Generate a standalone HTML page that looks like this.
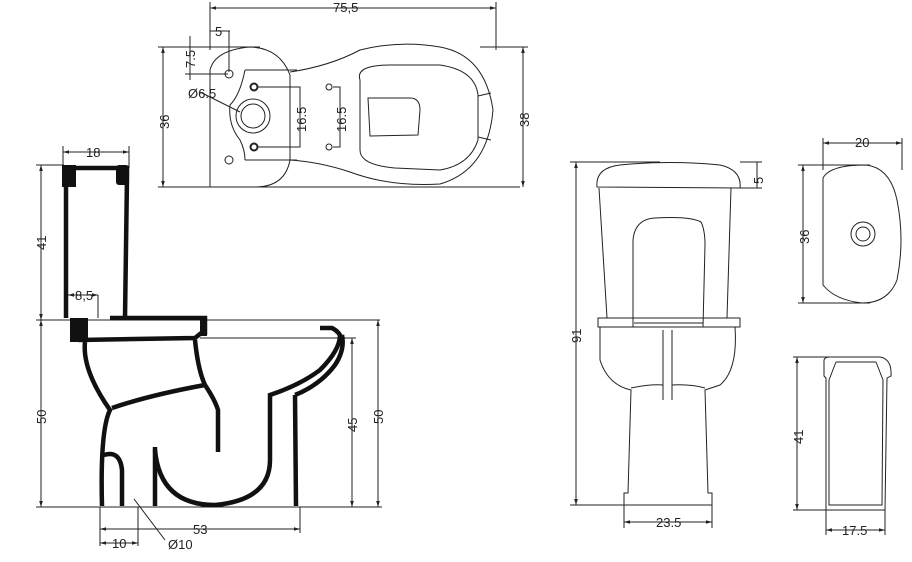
<!DOCTYPE html>
<html><head><style>
html,body{margin:0;padding:0;background:#fff;width:912px;height:562px;overflow:hidden}
svg text{font-family:"Liberation Sans",sans-serif;font-size:13px;fill:#222}
</style></head><body>
<svg width="912" height="562" viewBox="0 0 912 562" xmlns="http://www.w3.org/2000/svg">
<defs><marker id="a" viewBox="0 0 10 10" refX="10" refY="5" markerWidth="6" markerHeight="6" orient="auto-start-reverse"><path d="M0,2 L10,5 L0,8z" fill="#222"/></marker></defs>
<g fill="none" stroke="#222" stroke-width="1">
<line x1="36" y1="320" x2="380" y2="320"/>
<line x1="36" y1="507" x2="382" y2="507"/>
<line x1="36" y1="165" x2="64" y2="165"/>
<line x1="41" y1="165" x2="41" y2="320" marker-start="url(#a)" marker-end="url(#a)"/>
<line x1="41" y1="320" x2="41" y2="507" marker-start="url(#a)" marker-end="url(#a)"/>
<line x1="200" y1="338" x2="356" y2="338"/>
<line x1="352" y1="338" x2="352" y2="507" marker-start="url(#a)" marker-end="url(#a)"/>
<line x1="378" y1="320" x2="378" y2="507" marker-start="url(#a)" marker-end="url(#a)"/>
<line x1="63" y1="146" x2="63" y2="165"/><line x1="129" y1="146" x2="129" y2="168"/>
<line x1="63" y1="152" x2="129" y2="152" marker-start="url(#a)" marker-end="url(#a)"/>
<line x1="100" y1="507" x2="100" y2="546"/><line x1="300" y1="507" x2="300" y2="533"/><line x1="138" y1="507" x2="138" y2="546"/>
<line x1="100" y1="529" x2="300" y2="529" marker-start="url(#a)" marker-end="url(#a)"/>
<line x1="100" y1="543" x2="138" y2="543" marker-start="url(#a)" marker-end="url(#a)"/>
<line x1="134" y1="499" x2="165" y2="540"/>
<line x1="68" y1="295" x2="98" y2="295" marker-start="url(#a)" marker-end="url(#a)"/>
<line x1="98" y1="295" x2="98" y2="318"/>
</g>
<g stroke="#111" stroke-width="4.5" fill="none" stroke-linecap="butt">
<path d="M66,318 L66,168 L127,168 L127,176 L125,318"/>
<path d="M110,318 L205,318 L205,335"/>
<path d="M74,322 L80,340 L195,338 L205,330"/>
<path d="M85,342 Q82,370 110,410 Q100,430 102,506"/>
<path d="M195,340 Q198,370 205,385 Q215,400 218,410 L218,452"/>
<path d="M112,408 Q150,395 205,385"/>
<path d="M104,455 Q120,450 122,470 L122,506"/>
<path d="M155,447 L155,506"/>
<path d="M155,450 Q160,505 215,505 Q270,500 270,460 L270,395 Q300,385 320,370 Q340,350 340,335"/>
<path d="M295,395 L296,506"/>
<path d="M295,395 Q320,385 335,365 Q345,350 342,335"/>
<path d="M320,328 L332,328 Q340,332 342,340"/>
</g>
<g fill="#111">
<rect x="62" y="165" width="14" height="22"/><rect x="116" y="165" width="13" height="20" rx="3"/>
<rect x="70" y="318" width="18" height="24"/>
<rect x="200" y="318" width="7" height="18"/>
</g>
<g stroke="#222" stroke-width="1" fill="none">
<line x1="210" y1="2" x2="210" y2="50"/><line x1="496" y1="2" x2="496" y2="50"/>
<line x1="210" y1="8" x2="496" y2="8" marker-start="url(#a)" marker-end="url(#a)"/>
<line x1="158" y1="47" x2="260" y2="47"/><line x1="158" y1="187" x2="520" y2="187"/>
<line x1="163" y1="47" x2="163" y2="187" marker-start="url(#a)" marker-end="url(#a)"/>
<line x1="480" y1="47" x2="528" y2="47"/>
<line x1="523" y1="47" x2="523" y2="187" marker-start="url(#a)" marker-end="url(#a)"/>
<line x1="190" y1="36" x2="190" y2="80" /><line x1="185" y1="74" x2="228" y2="74"/>
<line x1="210" y1="31" x2="230" y2="31"/><line x1="229" y1="31" x2="229" y2="72"/>
<path d="M210,187 L210,70 Q215,50 250,47 Q280,48 290,75 L290,160 Q285,187 255,187 Z"/>
<path d="M290,72 Q330,66 360,50 Q400,40 440,47 Q485,55 493,110 Q488,170 440,184 Q390,187 350,172 Q320,162 290,160"/>
<path d="M245,70 L297,70 M245,160 L297,160"/>
<path d="M245,70 Q240,95 230,105 Q228,125 240,140 Q245,150 245,160"/>
<circle cx="229" cy="74" r="4"/><circle cx="229" cy="160" r="4"/>
<circle cx="253" cy="116" r="17"/><circle cx="253" cy="116" r="12"/>
<circle cx="254" cy="87" r="3.5" stroke-width="2"/><circle cx="254" cy="147" r="3.5" stroke-width="2"/>
<circle cx="329" cy="87" r="3"/><circle cx="329" cy="147" r="3"/>
<path d="M258,87 L300,87 L300,147 L258,147"/>
<path d="M333,87 L340,87 L340,147 L333,147"/>
<path d="M360,80 Q355,65 390,65 L440,65 Q475,70 478,95 L478,140 Q470,165 440,170 L395,168 Q360,165 360,150 Z"/>
<path d="M368,98 L410,98 Q420,98 420,110 L418,135 L370,136 Z"/>
<path d="M478,96 L491,93 M478,137 L491,140"/>
<line x1="200" y1="92" x2="240" y2="112"/>
<line x1="570" y1="162" x2="660" y2="162"/><line x1="570" y1="505" x2="625" y2="505"/>
<line x1="576" y1="162" x2="576" y2="505" marker-start="url(#a)" marker-end="url(#a)"/>
<line x1="740" y1="162" x2="762" y2="162"/><line x1="740" y1="188" x2="762" y2="188"/>
<line x1="757" y1="162" x2="757" y2="188"/>
<path d="M597,187 Q595,168 620,165 Q670,160 720,165 Q742,170 740,188 Z"/>
<path d="M599,188 L607,318 M731,188 L727,318"/>
<path d="M633,327 L633,240 Q635,219 655,218 Q690,216 701,222 Q705,230 705,245 L703,327"/>
<path d="M598,318 L740,318 L740,327 L735,327 Q738,370 720,385 L705,390 L708,493 L712,493 L712,505 L624,505 L624,493 L628,493 L631,390 Q608,385 600,360 L600,327 L598,327 Z"/>
<line x1="600" y1="327" x2="735" y2="327"/>
<line x1="634" y1="323" x2="703" y2="323"/>
<path d="M663,330 L663,400 M672,330 L672,400"/>
<path d="M631,388 Q650,384 663,385 M672,385 Q690,384 705,388"/>
<line x1="624" y1="505" x2="624" y2="528"/><line x1="712" y1="505" x2="712" y2="528"/>
<line x1="624" y1="522" x2="712" y2="522" marker-start="url(#a)" marker-end="url(#a)"/>
<line x1="823" y1="138" x2="823" y2="170"/><line x1="902" y1="138" x2="902" y2="170"/>
<line x1="823" y1="143" x2="902" y2="143" marker-start="url(#a)" marker-end="url(#a)"/>
<line x1="798" y1="165" x2="870" y2="165"/><line x1="798" y1="303" x2="870" y2="303"/>
<line x1="803" y1="165" x2="803" y2="303" marker-start="url(#a)" marker-end="url(#a)"/>
<path d="M823,178 Q830,165 865,165 Q890,167 897,200 Q905,240 897,280 Q888,303 862,303 Q835,300 823,285 Z"/>
<circle cx="863" cy="234" r="12"/><circle cx="863" cy="234" r="7"/>
<line x1="793" y1="357" x2="830" y2="357"/><line x1="793" y1="510" x2="828" y2="510"/>
<line x1="797" y1="357" x2="797" y2="510" marker-start="url(#a)" marker-end="url(#a)"/>
<path d="M824,376 L824,360 Q825,357 830,357 L880,357 Q892,359 891,376 L887,378 L885,510 L826,510 L826,378 Z"/>
<path d="M829,380 L829,505 L882,505 L883,380"/>
<path d="M836,362 L829,380 M876,362 L883,380 M836,362 L876,362"/>
<line x1="826" y1="510" x2="826" y2="535"/><line x1="885" y1="510" x2="885" y2="535"/>
<line x1="826" y1="530" x2="885" y2="530" marker-start="url(#a)" marker-end="url(#a)"/>
</g>
<g>
<text x="86" y="157">18</text>
<text x="75" y="300">8,5</text>
<text transform="translate(46,250) rotate(-90)">41</text>
<text transform="translate(46,424) rotate(-90)">50</text>
<text transform="translate(357,432) rotate(-90)">45</text>
<text transform="translate(383,424) rotate(-90)">50</text>
<text x="193" y="534">53</text>
<text x="112" y="548">10</text>
<text x="168" y="549">Ø10</text>
<text x="333" y="12">75,5</text>
<text x="215" y="36">5</text>
<text transform="translate(195,68) rotate(-90)">7.5</text>
<text x="188" y="98">Ø6.5</text>
<text transform="translate(169,129) rotate(-90)">36</text>
<text transform="translate(306,132) rotate(-90)">16.5</text>
<text transform="translate(346,132) rotate(-90)">16.5</text>
<text transform="translate(529,127) rotate(-90)">38</text>
<text transform="translate(763,184) rotate(-90)">5</text>
<text transform="translate(581,343) rotate(-90)">91</text>
<text x="656" y="527">23.5</text>
<text x="855" y="147">20</text>
<text transform="translate(809,244) rotate(-90)">36</text>
<text transform="translate(803,444) rotate(-90)">41</text>
<text x="842" y="535">17.5</text>
</g>
</svg>
</body></html>
